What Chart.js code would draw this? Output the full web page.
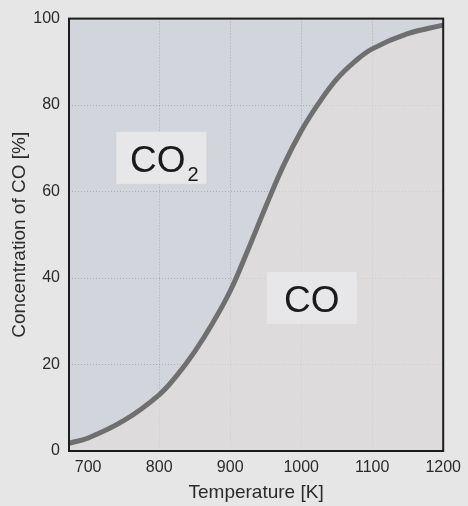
<!DOCTYPE html>
<html>
<head>
<meta charset="utf-8">
<script src="https://cdn.jsdelivr.net/npm/chart.js@4.4.1/dist/chart.umd.min.js"></script>
<style>
  html, body { margin: 0; padding: 0; background: #e6e6e6; }
  #wrap { width: 468px; height: 506px; }
</style>
</head>
<body>
<div id="wrap"><canvas id="equilibriumChart" width="468" height="506"></canvas></div>
<script>
// (temperature in K, CO in %)
const temperatures = [673, 700, 750, 800, 825, 850, 875, 900, 925, 950, 975, 1000, 1025, 1050, 1075, 1100, 1150, 1200];
const coConcentration = [1.8, 3, 7, 13, 17.5, 23, 29.5, 37, 46.5, 56.5, 66, 74, 80.5, 86, 90, 93, 96.5, 98.5];
const xTicks = [700, 800, 900, 1000, 1100, 1200];
const yTicks = [0, 20, 40, 60, 80, 100];
const regionLabels = [
    { main: 'CO', sub: '2', x: 803, y: 67.8 },
    { main: 'CO', sub: '', x: 1015, y: 35.4 }
];

const gridColor = 'rgba(150, 125, 125, 0.5)';

const regionPlugin = {
    id: 'regions',
    beforeDraw(chart) {
        const { ctx, chartArea } = chart;
        ctx.save();
        ctx.fillStyle = '#d3d5dc';
        ctx.fillRect(chartArea.left, chartArea.top, chartArea.width, chartArea.height);
        ctx.restore();
    },
    afterDraw(chart) {
        const { ctx, chartArea } = chart;
        const xs = chart.scales.x, ys = chart.scales.y;
        ctx.save();
        // frame
        ctx.strokeStyle = '#1c1c1c';
        ctx.lineWidth = 2;
        ctx.strokeRect(chartArea.left, chartArea.top, chartArea.width, chartArea.height);

        regionLabels.forEach(function (lab) {
            const cx = xs.getPixelForValue(lab.x);
            const cy = ys.getPixelForValue(lab.y);
            ctx.fillStyle = '#e7e7e9';
            ctx.fillRect(cx - 45, cy - 26, 90, 52);
            ctx.fillStyle = '#1a1a1a';
            ctx.textBaseline = 'alphabetic';
            ctx.textAlign = 'left';
            ctx.font = '37px "Liberation Sans", Arial, sans-serif';
            const w1 = ctx.measureText(lab.main).width;
            ctx.font = '20px "Liberation Sans", Arial, sans-serif';
            const w2 = lab.sub ? ctx.measureText(lab.sub).width + 2 : 0;
            const x0 = cx - (w1 + w2) / 2 + (lab.sub ? 3 : 0);
            ctx.font = '37px "Liberation Sans", Arial, sans-serif';
            ctx.fillText(lab.main, x0, cy + 14);
            if (lab.sub) {
                ctx.font = '20px "Liberation Sans", Arial, sans-serif';
                ctx.fillText(lab.sub, x0 + w1 + 2, cy + 23);
            }
        });
        ctx.restore();
    }
};

function generateEquilibriumChart() {
    const points = temperatures.map(function (t, i) {
        return { x: t, y: coConcentration[i] };
    });

    const ctx = document.getElementById('equilibriumChart').getContext('2d');
    const myChart = new Chart(ctx, {
        type: 'line',
        data: {
            datasets: [{
                label: 'CO',
                data: points,
                borderColor: '#6f6f6f',
                borderWidth: 5,
                backgroundColor: 'rgba(230, 224, 222, 0.6)',
                fill: 'origin',
                pointRadius: 0,
                tension: 0.4
            }]
        },
        options: {
            responsive: false,
            animation: false,
            layout: { padding: { top: 16, right: 21, left: 0, bottom: 0 } },
            plugins: {
                legend: { display: false },
                tooltip: { enabled: false }
            },
            scales: {
                x: {
                    type: 'linear',
                    min: 673,
                    max: 1200,
                    afterBuildTicks: function (scale) {
                        scale.ticks = xTicks.map(function (v) { return { value: v }; });
                    },
                    afterFit: function (scale) { scale.height = 55; },
                    grid: {
                        drawTicks: false,
                        color: function (c) { return c.tick && c.tick.value === 700 ? 'transparent' : gridColor; }
                    },
                    border: { display: false, dash: [1, 2] },
                    ticks: {
                        padding: 7,
                        maxRotation: 0,
                        color: '#2a2a2a',
                        callback: function (v) { return String(v); },
                        font: { family: '"Liberation Sans", Arial, sans-serif', size: 16 }
                    },
                    title: {
                        display: true,
                        text: 'Temperature [K]',
                        color: '#2a2a2a',
                        padding: { top: 0, bottom: 2 },
                        font: { family: '"Liberation Sans", Arial, sans-serif', size: 19 }
                    }
                },
                y: {
                    min: 0,
                    max: 100,
                    afterBuildTicks: function (scale) {
                        scale.ticks = yTicks.map(function (v) { return { value: v }; });
                    },
                    afterFit: function (scale) { scale.width = 69; },
                    grid: { drawTicks: false, color: gridColor },
                    border: { display: false, dash: [1, 2] },
                    ticks: {
                        padding: 9,
                        color: '#2a2a2a',
                        callback: function (v) { return String(v); },
                        font: { family: '"Liberation Sans", Arial, sans-serif', size: 16 }
                    },
                    title: {
                        display: true,
                        text: 'Concentration of CO [%]',
                        color: '#2a2a2a',
                        padding: { top: 8, bottom: 0 },
                        font: { family: '"Liberation Sans", Arial, sans-serif', size: 19 }
                    }
                }
            }
        },
        plugins: [regionPlugin]
    });
}

generateEquilibriumChart();
</script>
</body>
</html>
